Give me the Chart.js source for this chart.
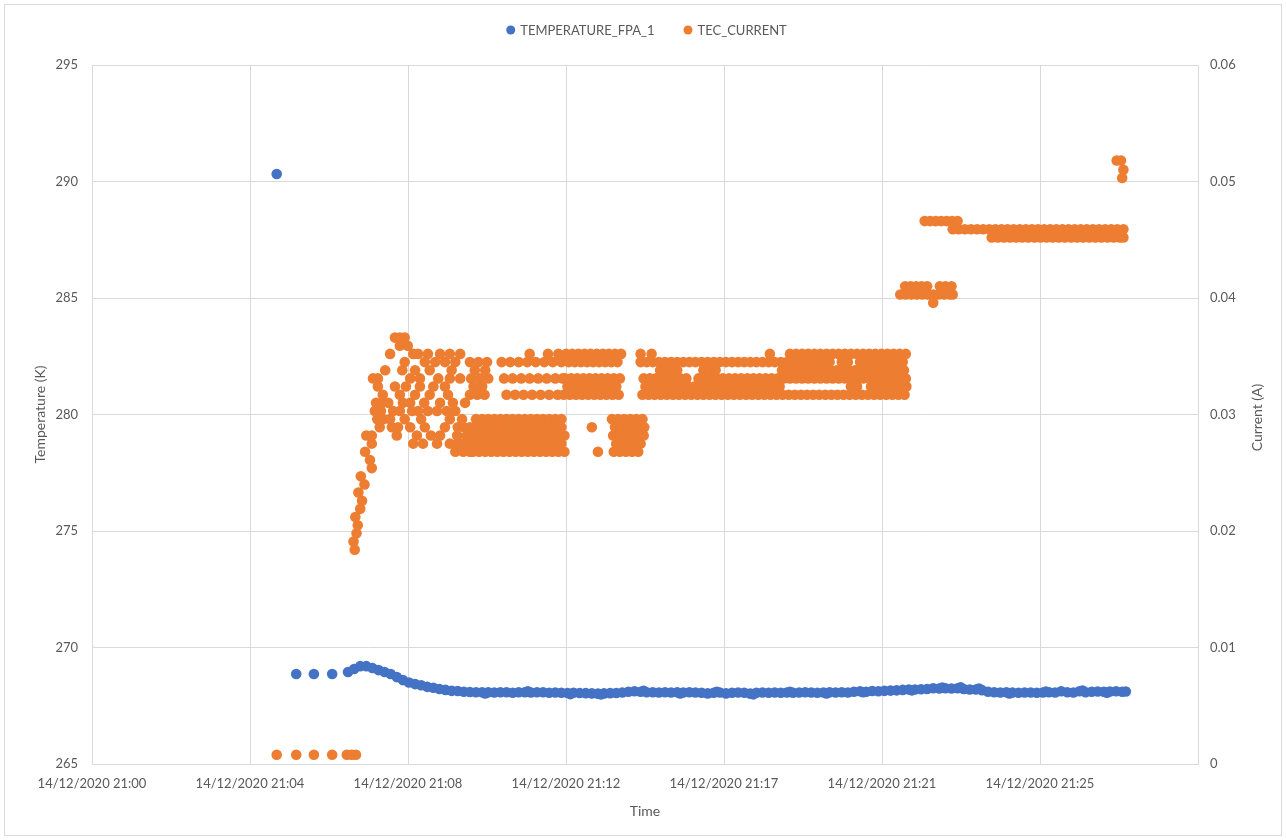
<!DOCTYPE html>
<html>
<head>
<meta charset="utf-8">
<script src="https://cdn.jsdelivr.net/npm/chart.js@4.4.1/dist/chart.umd.min.js"></script>
<style>
  html, body { margin: 0; padding: 0; background: #fff; }
  #wrap { position: relative; width: 1286px; height: 840px; }
  #frame { position: absolute; left: 4px; top: 4px; right: 4px; bottom: 4px; border: 1px solid #d9d9d9; }
  canvas { position: absolute; left: 0; top: 0; }
</style>
</head>
<body>
<div id="wrap"><div id="frame"></div><canvas id="chart" width="1286" height="840"></canvas></div>
<script>
// x values are seconds after 14/12/2020 21:00
var tickSeconds = [0, 259.2, 518.4, 777.6, 1036.8, 1296, 1555.2, 1814.4];
var tickLabels = ['14/12/2020 21:00', '14/12/2020 21:04', '14/12/2020 21:08', '14/12/2020 21:12',
  '14/12/2020 21:17', '14/12/2020 21:21', '14/12/2020 21:25', ''];

// TEMPERATURE_FPA_1 : [seconds, kelvin]
var temperature = [
  [303, 290.32], [335, 268.86], [364, 268.86], [394, 268.86],
  [420, 268.95], [430, 269.08], [440, 269.2], [450, 269.2], [460, 269.12], [470, 269.03],
  [480, 268.95], [490, 268.86], [500, 268.73], [510, 268.6], [520, 268.5], [530, 268.43],
  [540, 268.38], [550, 268.31], [560, 268.27], [570, 268.22], [580, 268.18], [590, 268.14],
  [600, 268.13], [610, 268.1], [620, 268.09], [630, 268.08], [640, 268.08], [650, 268.08],
  [660, 268.07], [670, 268.08], [680, 268.08], [690, 268.06], [700, 268.08], [710, 268.08],
  [720, 268.07], [730, 268.08], [740, 268.08], [750, 268.06], [760, 268.07], [770, 268.06],
  [780, 268.05], [790, 268.06], [800, 268.05], [810, 268.04], [820, 268.03], [830, 268.02],
  [840, 268.03], [850, 268.04], [860, 268.05], [870, 268.07], [880, 268.1], [890, 268.12],
  [900, 268.1], [910, 268.08], [920, 268.08], [930, 268.07], [940, 268.08], [950, 268.07],
  [960, 268.08], [970, 268.07], [980, 268.08], [990, 268.07], [1000, 268.06], [1010, 268.03],
  [1020, 268.06], [1030, 268.07], [1040, 268.03], [1050, 268.06], [1060, 268.07], [1070, 268.06],
  [1080, 268.02], [1090, 268.06], [1100, 268.07], [1110, 268.06], [1120, 268.07], [1130, 268.06],
  [1140, 268.07], [1150, 268.06], [1160, 268.07], [1170, 268.08], [1180, 268.07], [1190, 268.06],
  [1200, 268.07], [1210, 268.08], [1220, 268.07], [1230, 268.08], [1240, 268.07], [1250, 268.1],
  [1260, 268.12], [1270, 268.1], [1280, 268.13], [1290, 268.12], [1300, 268.14], [1310, 268.15],
  [1320, 268.16], [1330, 268.18], [1340, 268.2], [1350, 268.2], [1360, 268.21], [1370, 268.22],
  [1380, 268.25], [1390, 268.24], [1400, 268.25], [1410, 268.24], [1420, 268.25], [1430, 268.22],
  [1440, 268.2], [1450, 268.2], [1460, 268.17], [1470, 268.1], [1480, 268.08], [1490, 268.07],
  [1500, 268.08], [1510, 268.07], [1520, 268.06], [1530, 268.07], [1540, 268.07], [1550, 268.06],
  [1560, 268.07], [1570, 268.08], [1580, 268.07], [1590, 268.12], [1600, 268.08], [1610, 268.07],
  [1620, 268.12], [1630, 268.08], [1640, 268.1], [1650, 268.11], [1660, 268.1], [1670, 268.11],
  [1680, 268.12], [1690, 268.1], [1696, 268.11],
  // readings in between, a little above / below the trend
  [645, 268.03], [715, 268.12], [785, 268.0], [835, 267.99], [905, 268.14], [965, 268.03],
  [1025, 268.1], [1085, 267.99], [1145, 268.1], [1205, 268.03], [1265, 268.08], [1345, 268.16],
  [1395, 268.28], [1425, 268.29], [1455, 268.24], [1505, 268.03], [1565, 268.11], [1625, 268.15],
  [1665, 268.06]
];

// TEC_CURRENT : the current is quantised, so the readings are kept per level (A)
// with the seconds at which each level was logged
var currentLevels = [
  0.0008, 0.0184, 0.0191, 0.0198, 0.0205, 0.0212, 0.0219, 0.0226, 0.0233, 0.0240, 0.0247, 0.0254, 0.0261,
  0.0268, 0.0275, 0.0282, 0.0289, 0.0296, 0.0303, 0.0310, 0.0317, 0.0324, 0.0331, 0.0338, 0.0345,
  0.0352, 0.0359, 0.0366, 0.0396, 0.0403, 0.0410, 0.0452, 0.0459, 0.0466, 0.0503, 0.0510, 0.0518
];
var currentTimes = [
  [303, 335, 364, 394, 418, 426, 433],
  [431], [429], [434], [436], [432], [440], [443], [437], [447], [441], [459], [456],
  // 0.0268
  [448, 596, 609, 620, 625, 635, 645, 655, 665, 675, 685, 695, 705, 715, 725, 735, 745, 755, 765, 775,
    830, 856, 866, 876, 886, 896],
  // 0.0275
  [459, 527, 543, 566, 587, 607, 600, 610, 620, 630, 640, 650, 660, 670, 680, 690, 700, 710, 720, 730,
    740, 750, 760, 770, 860, 870, 880, 890, 900],
  // 0.0282
  [450, 459, 500, 533, 556, 571, 599, 615, 625, 635, 645, 655, 665, 675, 685, 695, 705, 715, 725, 735, 745,
    755, 765, 775, 855, 865, 875, 885, 895, 905],
  // 0.0289
  [472, 492, 502, 522, 546, 579, 600, 610, 620, 630, 640, 650, 660, 670, 680, 690, 700, 710, 720, 730, 740,
    750, 760, 770, 820, 858, 868, 878, 888, 898, 906],
  // 0.0296
  [468, 478, 489, 513, 540, 587, 607, 630, 640, 650, 660, 670, 680, 690, 700, 710, 720, 730, 740, 750, 760,
    770, 853, 863, 873, 883, 893, 903],
  // 0.0303
  [464, 474, 494, 505, 525, 535, 551, 566, 582, 596],
  // 0.0310
  [466, 476, 486, 510, 522, 545, 571, 592, 612],
  // 0.0317
  [477, 505, 530, 554, 584, 620, 632, 644, 680, 694, 708, 722, 736, 750, 764, 774, 784, 794, 804, 814, 824,
    834, 844, 854, 864, 903, 913, 923, 933, 943, 953, 963, 973, 983, 993, 1003, 1013, 1023, 1033, 1043,
    1053, 1063, 1073, 1083, 1093, 1103, 1113, 1123, 1133, 1143, 1153, 1163, 1173, 1183, 1193, 1203, 1213,
    1223, 1233, 1243, 1253, 1263, 1273, 1283, 1293, 1303, 1313, 1323, 1333],
  // 0.0324
  [469, 497, 515, 538, 560, 579, 626, 640, 780, 790, 800, 810, 820, 830, 840, 850, 860, 908, 918, 928, 938,
    948, 958, 968, 978, 988, 998, 1008, 1018, 1028, 1038, 1048, 1058, 1068, 1078, 1088, 1098, 1108, 1118,
    1128, 1245, 1255, 1278, 1288, 1298, 1308, 1318, 1328, 1336],
  // 0.0331
  [461, 469, 522, 538, 568, 587, 604, 622, 636, 650, 676, 690, 704, 718, 732, 746, 760, 772, 776, 786,
    796, 806, 816, 826, 836, 846, 856, 866, 905, 915, 925, 935, 945, 955, 965, 975, 995, 1005, 1015, 1025,
    1035, 1045, 1055, 1065, 1075, 1085, 1095, 1105, 1115, 1125, 1135, 1145, 1155, 1165, 1175, 1185, 1195,
    1205, 1215, 1225, 1235, 1245, 1255, 1265, 1275, 1285, 1295, 1305, 1315, 1325, 1335],
  // 0.0338
  [481, 509, 530, 554, 590, 628, 645, 932, 942, 952, 960, 1003, 1013, 1023, 1132, 1142, 1152, 1162, 1172,
    1182, 1192, 1202, 1212, 1222, 1232, 1242, 1252, 1262, 1272, 1282, 1292, 1302, 1312, 1322, 1332],
  // 0.0345
  [513, 546, 563, 579, 596, 620, 634, 648, 672, 686, 700, 714, 728, 742, 756, 770, 782, 792, 802, 812, 822,
    832, 842, 852, 862, 900, 910, 920, 930, 940, 950, 960, 970, 980, 990, 1000, 1010, 1020, 1030, 1040,
    1050, 1060, 1070, 1080, 1090, 1100, 1110, 1120, 1130, 1140, 1150, 1160, 1170, 1180, 1190, 1200, 1210,
    1230, 1240, 1260, 1270, 1280, 1290, 1300, 1310, 1320, 1330],
  // 0.0352
  [489, 527, 535, 551, 571, 587, 604, 718, 748, 765, 778, 788, 798, 808, 818, 828, 838, 848, 858, 868, 900,
    918, 1112, 1145, 1155, 1165, 1175, 1185, 1195, 1205, 1215, 1225, 1235, 1245, 1255, 1265, 1275, 1285,
    1295, 1305, 1315, 1325, 1335],
  // 0.0359
  [505, 518],
  // 0.0366
  [497, 505, 513],
  // 0.0396
  [1380],
  // 0.0403
  [1326, 1335, 1344, 1353, 1362, 1371, 1380, 1389, 1398, 1407, 1412],
  // 0.0410
  [1334, 1343, 1352, 1361, 1370, 1391, 1400, 1410],
  // 0.0452
  [1476, 1486, 1496, 1506, 1516, 1526, 1536, 1546, 1556, 1566, 1576, 1586, 1596, 1606, 1616, 1626, 1636,
    1646, 1656, 1666, 1676, 1686, 1692],
  // 0.0459
  [1412, 1422, 1432, 1442, 1452, 1462, 1472, 1482, 1492, 1502, 1512, 1522, 1532, 1542, 1552, 1562, 1572,
    1582, 1592, 1602, 1612, 1622, 1632, 1642, 1652, 1662, 1672, 1682, 1692],
  // 0.0466
  [1366, 1375, 1384, 1393, 1402, 1411, 1420],
  [1690], [1692], [1681, 1688]
];

var BLUE = '#4472C4';
var ORANGE = '#ED7D31';
var TEXT = '#595959';
var GRID = '#d9d9d9';

Chart.defaults.font.family = 'Lato, "Open Sans", sans-serif';
Chart.defaults.font.size = 13;
Chart.defaults.color = TEXT;

var tempData = temperature.map(function (p) {
  return { x: p[0], y: p[1] };
});
var currentData = [];
currentLevels.forEach(function (level, i) {
  currentTimes[i].forEach(function (t) {
    currentData.push({ x: t, y: level });
  });
});

// legend centred above the plot, round markers like the original
var topLegend = {
  id: 'topLegend',
  afterDraw: function (chart) {
    var ctx = chart.ctx;
    var sets = chart.data.datasets;
    ctx.save();
    ctx.font = '13px ' + Chart.defaults.font.family;
    ctx.textBaseline = 'middle';
    var widths = sets.map(function (d) { return 15 + ctx.measureText(d.label).width; });
    var gap = 28;
    var total = widths.reduce(function (a, b) { return a + b; }, 0) + gap * (sets.length - 1);
    var x = (chart.chartArea.left + chart.chartArea.right) / 2 + 2 - total / 2;
    var y = 30;
    sets.forEach(function (d, i) {
      ctx.fillStyle = d.backgroundColor;
      ctx.beginPath();
      ctx.arc(x + 4.5, y, 4.5, 0, Math.PI * 2);
      ctx.fill();
      ctx.fillStyle = TEXT;
      ctx.fillText(d.label, x + 14, y + 1);
      x += widths[i] + gap;
    });
    ctx.restore();
  }
};

// secondary axis title, reading bottom to top as in Excel
var rightTitle = {
  id: 'rightTitle',
  afterDraw: function (chart) {
    var ctx = chart.ctx;
    var a = chart.chartArea;
    ctx.save();
    ctx.translate(a.right + 59, (a.top + a.bottom) / 2 + 3);
    ctx.rotate(-Math.PI / 2);
    ctx.font = '14px ' + Chart.defaults.font.family;
    ctx.fillStyle = TEXT;
    ctx.textAlign = 'center';
    ctx.textBaseline = 'middle';
    ctx.fillText('Current (A)', 0, 0);
    ctx.restore();
  }
};

var chart = new Chart(document.getElementById('chart'), {
  type: 'scatter',
  data: {
    datasets: [
      {
        label: 'TEMPERATURE_FPA_1',
        data: tempData,
        yAxisID: 'y',
        backgroundColor: BLUE,
        borderColor: BLUE,
        borderWidth: 0,
        pointRadius: 5.3
      },
      {
        label: 'TEC_CURRENT',
        data: currentData,
        yAxisID: 'y1',
        backgroundColor: ORANGE,
        borderColor: ORANGE,
        borderWidth: 0,
        pointRadius: 5.3
      }
    ]
  },
  options: {
    responsive: false,
    animation: false,
    layout: { padding: { left: 28, top: 65, right: 0, bottom: 0 } },
    plugins: {
      legend: { display: false },
      tooltip: { enabled: false }
    },
    scales: {
      x: {
        type: 'linear',
        position: 'bottom',
        min: 0,
        max: 1814.4,
        afterBuildTicks: function (scale) {
          scale.ticks = tickSeconds.map(function (v) { return { value: v }; });
        },
        afterFit: function (scale) { scale.height = 76; },
        ticks: {
          autoSkip: false,
          maxRotation: 0,
          padding: 12,
          callback: function (value, index) { return tickLabels[index]; }
        },
        grid: { color: GRID, drawTicks: false },
        border: { color: GRID },
        title: { display: true, text: 'Time', font: { size: 14 }, padding: { top: 4, bottom: 20 } }
      },
      y: {
        position: 'left',
        min: 265,
        max: 295,
        afterFit: function (scale) { scale.width = 64; },
        ticks: { stepSize: 5, padding: 14 },
        grid: { color: GRID, drawTicks: false },
        border: { display: false },
        title: { display: true, text: 'Temperature (K)', font: { size: 14 }, padding: { top: 4, bottom: 4 } }
      },
      y1: {
        position: 'right',
        min: 0,
        max: 0.06,
        afterFit: function (scale) { scale.width = 88; },
        ticks: { stepSize: 0.01, padding: 12 },
        grid: { drawOnChartArea: false, drawTicks: false },
        border: { display: false }
      }
    }
  },
  plugins: [topLegend, rightTitle]
});
</script>
</body>
</html>
